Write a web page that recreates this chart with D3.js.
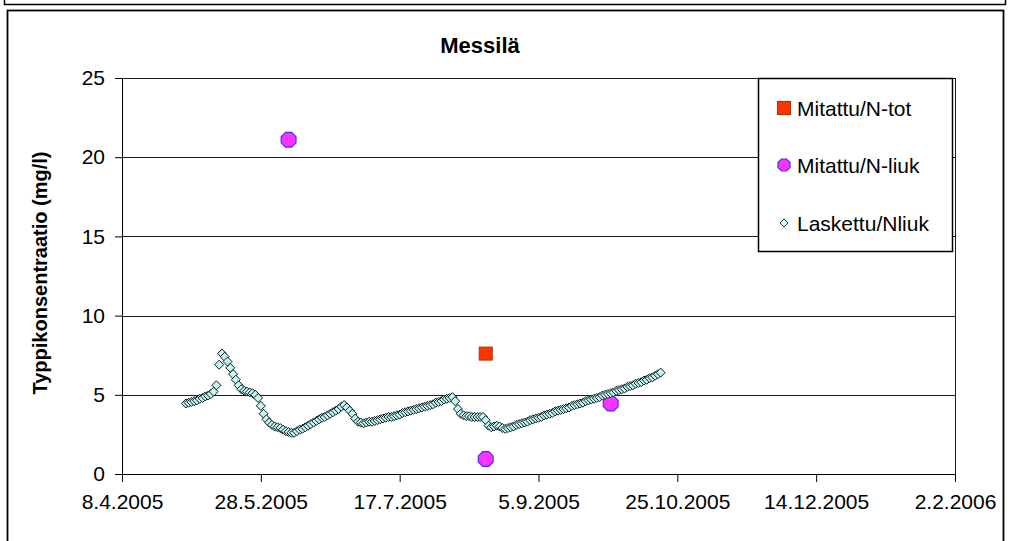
<!DOCTYPE html>
<html>
<head>
<meta charset="utf-8">
<script src="https://cdn.jsdelivr.net/npm/d3@7/dist/d3.min.js"></script>
<style>
  html, body { margin: 0; padding: 0; background: #fff; }
  svg { display: block; font-family: "Liberation Sans", Arial, sans-serif; }
</style>
</head>
<body>
<svg id="chart" width="1010" height="541"></svg>
<script>
// ---------------- data ----------------
const title = "Messilä";
const yLabel = "Typpikonsentraatio (mg/l)";
const xTickLabels = ["8.4.2005", "28.5.2005", "17.7.2005", "5.9.2005", "25.10.2005", "14.12.2005", "2.2.2006"];
const yTicks = [0, 5, 10, 15, 20, 25];
const seriesNames = ["Mitattu/N-tot", "Mitattu/N-liuk", "Laskettu/Nliuk"];

// measured total N
const ntotDates = ["17.8.2005"];
const ntotValues = [7.6];

// measured dissolved N
const nliukDates = ["7.6.2005", "17.8.2005", "1.10.2005"];
const nliukValues = [21.1, 0.95, 4.45];

// calculated dissolved N, one value per day from 1.5.2005 to 19.10.2005
const calcStart = "1.5.2005";
const calcValues = [
  4.45,4.5,4.55,4.6,4.65,4.75,4.8,4.9,4.95,5.05,
  5.2,5.6,6.9,7.6,7.4,7.1,6.7,6.3,5.95,5.6,
  5.35,5.25,5.2,5.15,5.1,5.0,4.8,4.3,3.8,3.45,
  3.25,3.1,3.0,2.95,2.9,2.8,2.7,2.65,2.6,2.6,
  2.7,2.8,2.85,2.95,3.05,3.15,3.25,3.35,3.45,3.55,
  3.6,3.7,3.8,3.9,4.0,4.1,4.25,4.35,4.2,4.0,
  3.8,3.5,3.3,3.25,3.2,3.25,3.3,3.3,3.35,3.4,
  3.45,3.5,3.55,3.6,3.6,3.65,3.7,3.75,3.85,3.9,
  3.95,4.0,4.05,4.1,4.15,4.2,4.25,4.3,4.35,4.4,
  4.5,4.55,4.6,4.7,4.75,4.8,4.85,4.6,4.1,3.8,
  3.7,3.65,3.65,3.6,3.6,3.6,3.6,3.6,3.4,3.05,
  2.95,3.0,3.05,3.0,2.9,2.85,2.9,2.95,3.0,3.1,
  3.15,3.2,3.25,3.3,3.4,3.45,3.5,3.55,3.6,3.7,
  3.75,3.8,3.85,3.95,4.0,4.05,4.1,4.15,4.2,4.3,
  4.35,4.4,4.45,4.5,4.6,4.65,4.7,4.75,4.8,4.85,
  4.95,5.0,5.05,5.1,5.15,5.25,5.3,5.35,5.4,5.5,
  5.55,5.6,5.7,5.75,5.8,5.9,5.95,6.05,6.1,6.2,
  6.3,6.4
];

// ---------------- helpers ----------------
const parseDate = d3.utcParse("%d.%m.%Y");
const fmtTick = d => `${d.getUTCDate()}.${d.getUTCMonth() + 1}.${d.getUTCFullYear()}`;

const xTickDates = xTickLabels.map(parseDate);
const ntot = ntotDates.map((d, i) => ({ date: parseDate(d), value: ntotValues[i] }));
const nliuk = nliukDates.map((d, i) => ({ date: parseDate(d), value: nliukValues[i] }));
const startDate = parseDate(calcStart);
const calc = calcValues.map((v, i) => ({ date: d3.utcDay.offset(startDate, i), value: v }));

// ---------------- layout ----------------
const svg = d3.select("#chart");
const plotLeft = 122, plotRight = 955, plotTop = 78, plotBottom = 474;

const x = d3.scaleUtc()
  .domain([xTickDates[0], xTickDates[xTickDates.length - 1]])
  .range([plotLeft, plotRight]);
const y = d3.scaleLinear().domain([0, 25]).range([plotBottom, plotTop]);

// outer frames
svg.append("path")
  .attr("d", "M4.5,0 V4.5 H1005.5 V0")
  .attr("fill", "none").attr("stroke", "#000").attr("stroke-width", 1.5);
svg.append("rect")
  .attr("x", 7.5).attr("y", 10.5).attr("width", 996).attr("height", 560)
  .attr("fill", "#fff").attr("stroke", "#000").attr("stroke-width", 1.8);

// gridlines
svg.append("g")
  .selectAll("line")
  .data(yTicks.filter(t => t > 0))
  .join("line")
  .attr("x1", plotLeft).attr("x2", plotRight)
  .attr("y1", d => Math.round(y(d)) + 0.5).attr("y2", d => Math.round(y(d)) + 0.5)
  .attr("stroke", "#1a1a1a").attr("stroke-width", 1);

// right border of plot area
svg.append("line")
  .attr("x1", plotRight + 0.5).attr("x2", plotRight + 0.5)
  .attr("y1", plotTop).attr("y2", plotBottom)
  .attr("stroke", "#1a1a1a").attr("stroke-width", 1);

// axes
const yAxis = svg.append("g")
  .attr("transform", `translate(${plotLeft},0)`)
  .call(d3.axisLeft(y).tickValues(yTicks).tickSize(7).tickPadding(10).tickFormat(d3.format("d")));
const xAxis = svg.append("g")
  .attr("transform", `translate(0,${plotBottom})`)
  .call(d3.axisBottom(x).tickValues(xTickDates).tickSize(8).tickPadding(12).tickFormat(fmtTick));

[yAxis, xAxis].forEach(g => {
  g.select(".domain").attr("stroke", "#000").attr("stroke-width", 1);
  g.selectAll(".tick line").attr("stroke", "#000");
  g.selectAll(".tick text")
    .attr("fill", "#000")
    .style("font-family", '"Liberation Sans", Arial, sans-serif')
    .style("font-size", "21px");
});

// title and y label
svg.append("text")
  .attr("x", 480).attr("y", 53)
  .attr("text-anchor", "middle")
  .style("font-size", "22px").style("font-weight", "bold")
  .text(title);
svg.append("text")
  .attr("transform", "translate(47,273) rotate(-90)")
  .attr("text-anchor", "middle")
  .style("font-size", "20px").style("font-weight", "bold")
  .text(yLabel);

// markers
const diamondPath = r => `M0,${-r}L${r},0L0,${r}L${-r},0Z`;
const octagon = r => {
  const pts = d3.range(8).map(i => {
    const a = Math.PI / 8 + i * Math.PI / 4;
    return [r * Math.cos(a), r * Math.sin(a)];
  });
  return "M" + pts.map(p => p.join(",")).join("L") + "Z";
};

const plot = svg.append("g");

plot.selectAll("rect.ntot")
  .data(ntot)
  .join("rect")
  .attr("class", "ntot")
  .attr("x", d => x(d.date) - 6.5).attr("y", d => y(d.value) - 6.5)
  .attr("width", 13).attr("height", 13)
  .attr("fill", "#ff3300").attr("stroke", "#b03000").attr("stroke-width", 1);

plot.selectAll("path.nliuk")
  .data(nliuk)
  .join("path")
  .attr("class", "nliuk")
  .attr("transform", d => `translate(${x(d.date)},${y(d.value)})`)
  .attr("d", octagon(8))
  .attr("fill", "#ff33ff").attr("stroke", "#3333ff").attr("stroke-width", 1.2);

plot.selectAll("path.calc")
  .data(calc)
  .join("path")
  .attr("class", "calc")
  .attr("transform", d => `translate(${x(d.date)},${y(d.value)})`)
  .attr("d", diamondPath(4.5))
  .attr("fill", "#c4f4f4").attr("stroke", "#0d1a1a").attr("stroke-width", 1);

// legend
const lg = svg.append("g");
lg.append("rect")
  .attr("x", 758.5).attr("y", 78.5).attr("width", 194).attr("height", 173)
  .attr("fill", "#fff").attr("stroke", "#000").attr("stroke-width", 1.5);

const legendRows = [108, 165, 223];
const lx = 784;
lg.append("rect")
  .attr("x", lx - 6.5).attr("y", legendRows[0] - 6.5).attr("width", 13).attr("height", 13)
  .attr("fill", "#ff3300").attr("stroke", "#b03000");
lg.append("path")
  .attr("transform", `translate(${lx},${legendRows[1]})`)
  .attr("d", octagon(6.5))
  .attr("fill", "#ff33ff").attr("stroke", "#3333ff").attr("stroke-width", 1.2);
lg.append("path")
  .attr("transform", `translate(${lx},${legendRows[2]})`)
  .attr("d", diamondPath(4))
  .attr("fill", "#ccffff").attr("stroke", "#1f3a3a");

lg.selectAll("text")
  .data(seriesNames)
  .join("text")
  .attr("x", 797).attr("y", (d, i) => legendRows[i] + 7.5)
  .style("font-size", "21px")
  .text(d => d);
</script>
</body>
</html>
